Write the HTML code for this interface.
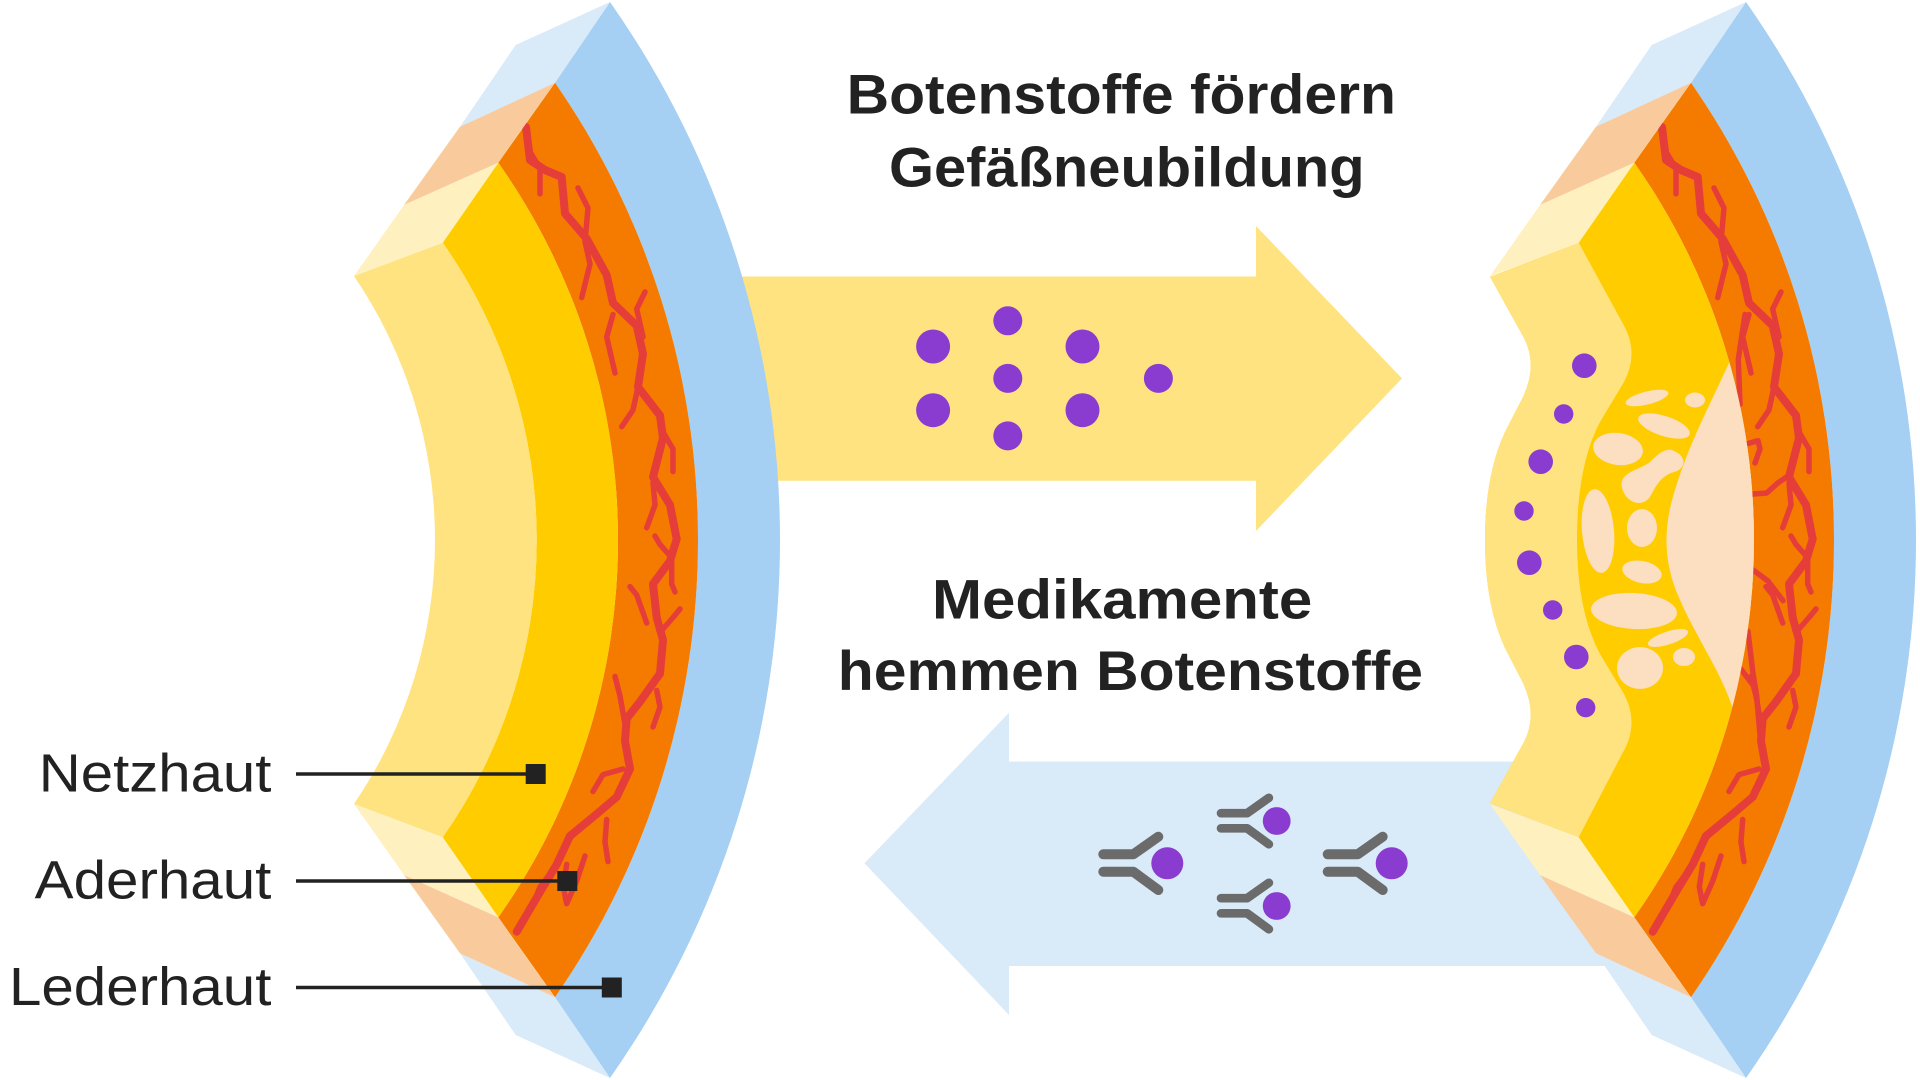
<!DOCTYPE html>
<html><head><meta charset="utf-8"><style>
html,body{margin:0;padding:0;background:#fff;width:1920px;height:1080px;overflow:hidden}
svg{display:block}
text{font-family:"Liberation Sans",Arial,sans-serif;fill:#222}
</style></head><body>
<svg width="1920" height="1080" viewBox="0 0 1920 1080" xmlns="http://www.w3.org/2000/svg">
<defs>
<g id="back">
<path d="M610,2 A936.3,936.3 0 0 1 610,1078 L555,997.3 A802.7,802.7 0 0 0 555,82.7 Z" fill="#A6CFF4"/>
<path d="M555,82.7 A802.7,802.7 0 0 1 555,997.3 L498.3,917.3 A654.5,654.5 0 0 0 498.3,162.7 Z" fill="#F47B00"/>
<g fill="none" stroke="#E53E3A" stroke-linecap="round" stroke-linejoin="round">
<polyline stroke-width="8" points="526,127 530,160 545,170 561.7,177 565,213.5 586.7,238.7 606.7,275 613,303 636.7,325.7 643,353.7 638,387 660,415.5 663,438 653,477 670,505 676.7,539 670,561 653,584 656.7,617.5 663,640 660,673.6 640,701.7 626.7,718.5 625,741 630,769 616.7,797 596.7,814 570,836 556.7,864.4 543,886.9 530,909 516.7,931.7"/>
<g stroke-width="5.5">
<polyline points="530,151.7 540,168.6 540,193.8"/>
<polyline points="578,188 588,208 585,241.5 590,264 581.7,297.6"/>
<polyline points="613,314.5 606.7,337 615,373"/>
<polyline points="645,292 636.7,309 643,337"/>
<polyline points="638,387 633,410 621.7,426.7"/>
<polyline points="663,432 673,449 673,471.6"/>
<polyline points="653,482.8 655,505 646.7,527.7"/>
<polyline points="670,555.8 660,544.5 655,536"/>
<polyline points="671.7,561 671.7,584 675,592"/>
<polyline points="663,629 673,617.5 680,609"/>
<polyline points="646.7,623 636.7,595 630,586.6"/>
<polyline points="656.7,690.4 660,707 653,727"/>
<polyline points="625,724 620,696 615,676.4"/>
<polyline points="623,769 603,774.6 593,791.5"/>
<polyline points="606.7,819.5 605,842 608,861.6"/>
<polyline points="553,870 540,887 536.7,895"/>
<polyline points="566.7,864.4 563.3,887 566.7,903.7 576.7,881 585,856"/>
</g>
</g>
</g>
<g id="faces">
<polygon points="515.7,45 610,2 555,82.7 460,126.7" fill="#D9EAF9"/>
<polygon points="460,126.7 555,82.7 498.3,162.7 404,205" fill="#F9CB9C"/>
<polygon points="404,205 498.3,162.7 442.7,242.7 354,276" fill="#FFF1BF"/>
<polygon points="515.7,1035 610,1078 555,997.3 460,953.3" fill="#D9EAF9"/>
<polygon points="460,953.3 555,997.3 498.3,917.3 404,875" fill="#F9CB9C"/>
<polygon points="404,875 498.3,917.3 442.7,837.3 354,804" fill="#FFF1BF"/>
</g>
<g id="ab">
<g fill="none" stroke="#6B6B6B" stroke-width="10" stroke-linecap="round" stroke-linejoin="round">
<polyline points="-64,-9 -34,-9 -9,-26.6"/>
<polyline points="-64,8.4 -34,8.4 -9,26.7"/>
</g>
<circle cx="0" cy="0" r="16" fill="#8A3CD0"/>
</g>
</defs>

<!-- arrows -->
<polygon points="600,276.5 1256,276.5 1256,226 1402,378.4 1256,531 1256,480.7 600,480.7" fill="#FFE380"/>
<polygon points="1640,761.6 1009,761.6 1009,712.7 864.5,863.3 1009,1015 1009,966 1640,966" fill="#D9EAF8"/>

<!-- purple dots in yellow arrow -->
<g fill="#8A3CD0">
<circle cx="933.1" cy="346.5" r="17"/>
<circle cx="1007.8" cy="320.8" r="14.5"/>
<circle cx="1082.5" cy="346.5" r="17"/>
<circle cx="1007.8" cy="378.4" r="14.5"/>
<circle cx="1158.4" cy="378.4" r="14.5"/>
<circle cx="933.1" cy="410.2" r="17"/>
<circle cx="1007.8" cy="435.9" r="14.5"/>
<circle cx="1082.5" cy="410.2" r="17"/>
</g>

<!-- antibodies -->
<use href="#ab" transform="translate(1167.3,863.3)"/>
<use href="#ab" transform="translate(1391.7,863.3)"/>
<use href="#ab" transform="translate(1276.7,821) scale(0.87)"/>
<use href="#ab" transform="translate(1276.7,906) scale(0.87)"/>

<!-- LEFT EYE -->
<use href="#back"/>
<path d="M498.3,162.7 A654.5,654.5 0 0 1 498.3,917.3 L442.7,837.3 A517.1,517.1 0 0 0 442.7,242.7 Z" fill="#FFCC00"/>
<path d="M354,276 L442.7,242.7 A517.1,517.1 0 0 1 442.7,837.3 L354,804 A470.7,470.7 0 0 0 354,276 Z" fill="#FFE380"/>
<use href="#faces"/>

<!-- RIGHT EYE -->
<use href="#back" transform="translate(1136,0)"/>
<g fill="none" stroke="#E53E3A" stroke-linecap="round" stroke-linejoin="round" stroke-width="5.5">
<polyline points="1745,314.5 1738.3,359.4 1740,404.3"/>
<polyline points="1748,443.5 1758,440.7 1760,449 1755,463"/>
<polyline points="1753,494 1766.7,493 1778,482.8 1786.7,477"/>
<polyline points="1753,570 1768,581 1783,600.7"/>
<polyline points="1748,631.5 1753,673.6 1756.7,696 1760,735"/>
<polyline points="1740,668 1753,685"/>
</g>
<path d="M1490,276.7 L1578.7,242.7 L1634.3,162.7 A654.5,654.5 0 0 1 1634.3,917.3 L1578.7,837.3 L1490,803.3 L1524,742 Q1538,715 1523,683 L1505,648 Q1485,605 1485,540 Q1485,475 1505,432 L1523,397 Q1538,365 1524,338 Z" fill="#FFCC00"/>
<path d="M1729.3,362 C1715,395 1690,440 1675,490 C1662,530 1664,565 1680,600 C1695,635 1720,670 1732.3,707 A654.5,654.5 0 0 0 1729.3,362 Z" fill="#FCDEC0"/>
<g fill="#FCDEC0">
<ellipse cx="1647" cy="398" rx="22" ry="6.5" transform="rotate(-14 1647 398)"/>
<ellipse cx="1695" cy="400" rx="10" ry="7.5"/>
<ellipse cx="1664" cy="426" rx="27" ry="10" transform="rotate(18 1664 426)"/>
<ellipse cx="1618" cy="449" rx="25" ry="16" transform="rotate(8 1618 449)"/>
<path d="M1622,488 C1618,472 1640,470 1650,462 C1660,452 1668,446 1676,452 C1688,458 1684,470 1674,472 C1660,476 1655,488 1650,497 C1642,508 1626,503 1622,488 Z"/>
<ellipse cx="1598" cy="531" rx="16" ry="42" transform="rotate(-5 1598 531)"/>
<ellipse cx="1642" cy="528" rx="15" ry="19"/>
<ellipse cx="1642" cy="572" rx="20" ry="11" transform="rotate(12 1642 572)"/>
<ellipse cx="1634" cy="611" rx="43" ry="18" transform="rotate(3 1634 611)"/>
<ellipse cx="1668" cy="638" rx="21" ry="6.5" transform="rotate(-18 1668 638)"/>
<ellipse cx="1684" cy="657" rx="11" ry="9"/>
<ellipse cx="1640" cy="668" rx="23" ry="21"/>
</g>
<path d="M1490,276.7 L1578.7,242.7 L1622,322 Q1640,352 1624,382 L1600,422 Q1577,465 1577,540 Q1577,611 1600,654 L1624,694 Q1640,724 1622,754 L1578.7,837.3 L1490,803.3 L1524,742 Q1538,715 1523,683 L1505,648 Q1485,605 1485,540 Q1485,475 1505,432 L1523,397 Q1538,365 1524,338 Z" fill="#FFE380"/>
<g fill="#8A3CD0">
<circle cx="1584.3" cy="365.7" r="12.3"/>
<circle cx="1563.7" cy="414" r="9.7"/>
<circle cx="1540.7" cy="461.7" r="12.3"/>
<circle cx="1524" cy="511" r="9.7"/>
<circle cx="1529.3" cy="562.7" r="12.3"/>
<circle cx="1552.7" cy="610" r="9.7"/>
<circle cx="1576.3" cy="657" r="12.3"/>
<circle cx="1585.7" cy="707.7" r="9.7"/>
</g>
<use href="#faces" transform="translate(1136,0)"/>

<!-- labels -->
<g stroke="#222" stroke-width="3.5">
<line x1="296" y1="774" x2="536" y2="774"/>
<line x1="296" y1="881" x2="567" y2="881"/>
<line x1="296" y1="987.5" x2="612" y2="987.5"/>
</g>
<g fill="#222">
<rect x="525.7" y="764" width="20" height="20"/>
<rect x="557.3" y="871" width="20" height="20"/>
<rect x="601.8" y="977.5" width="20" height="20"/>
</g>
<text x="38.8" y="791.7" font-size="54" textLength="232.6" lengthAdjust="spacingAndGlyphs">Netzhaut</text>
<text x="34.7" y="898.3" font-size="54" textLength="236.7" lengthAdjust="spacingAndGlyphs">Aderhaut</text>
<text x="9" y="1005" font-size="54" textLength="262.4" lengthAdjust="spacingAndGlyphs">Lederhaut</text>

<!-- titles -->
<text x="846.6" y="113.3" font-size="56" font-weight="700" textLength="549.4" lengthAdjust="spacingAndGlyphs">Botenstoffe fördern</text>
<text x="889" y="186.7" font-size="56" font-weight="700" textLength="475.6" lengthAdjust="spacingAndGlyphs">Gefäßneubildung</text>
<text x="932" y="618.3" font-size="56" font-weight="700" textLength="380.3" lengthAdjust="spacingAndGlyphs">Medikamente</text>
<text x="837.8" y="690" font-size="56" font-weight="700" textLength="585.2" lengthAdjust="spacingAndGlyphs">hemmen Botenstoffe</text>
</svg>
</body></html>
